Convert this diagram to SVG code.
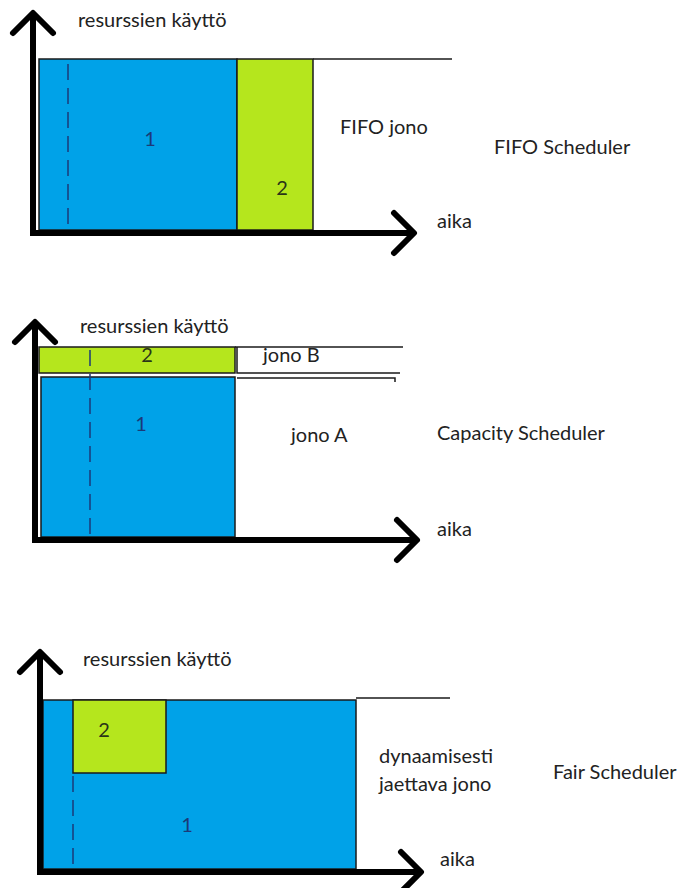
<svg xmlns="http://www.w3.org/2000/svg" width="682" height="888" viewBox="0 0 682 888">
<style>
.t{font-family:Lato,"Liberation Sans",sans-serif;font-size:20px;fill:#222}
.n1{font-family:Lato,"Liberation Sans",sans-serif;font-size:20px;fill:#1b3a78;text-anchor:middle}
.n2{font-family:Lato,"Liberation Sans",sans-serif;font-size:20px;fill:#2a3518;text-anchor:middle}
.blue{fill:#00a2e8;stroke:#1a1a1a;stroke-width:1.5}
.green{fill:#b5e61d;stroke:#1a1a1a;stroke-width:1.5}
.thin{fill:none;stroke:#1a1a1a;stroke-width:1.5}
.dash{fill:none;stroke:#1b3a78;stroke-width:1.5;stroke-dasharray:16 8}
.axis{fill:none;stroke:#000;stroke-width:6;marker-end:url(#chev)}
</style>
<defs>
<marker id="chev" markerUnits="userSpaceOnUse" viewBox="-26 -26 32 52" refX="0" refY="0" markerWidth="32" markerHeight="52" orient="auto" overflow="visible">
<path d="M -20 -20 L 0 0 L -20 20" fill="none" stroke="#000" stroke-width="6" stroke-linecap="round" stroke-linejoin="round"/>
</marker>
</defs>
<rect width="682" height="888" fill="#fff"/>

<g id="fifo">
<rect id="fifo-job1" class="blue" x="39" y="59" width="198" height="171"/>
<rect id="fifo-job2" class="green" x="237" y="59" width="76" height="171"/>
<line class="thin" x1="313" y1="59" x2="452" y2="59"/>
<line class="dash" x1="68" y1="64" x2="68" y2="230"/>
<text class="n1" x="150" y="146">1</text>
<text class="n2" x="282" y="195">2</text>
<text class="t" x="78" y="27">resurssien käyttö</text>
<text class="t" x="340" y="134">FIFO jono</text>
<text class="t" x="494" y="154">FIFO Scheduler</text>
<text class="t" x="437" y="228">aika</text>
</g>

<g id="capacity">
<rect id="cap-job2" class="green" x="39" y="347" width="196" height="26"/>
<rect id="cap-job1" class="blue" x="41" y="377" width="194" height="160"/>
<polyline class="thin" points="235,347 403,347"/>
<polyline class="thin" points="237,347 237,373 400,373"/>
<polyline class="thin" points="237,378 395,378 395,382"/>
<line class="dash" x1="90" y1="350" x2="90" y2="537"/>
<text class="n2" x="147" y="362">2</text>
<text class="n1" x="141" y="431">1</text>
<text class="t" x="80" y="333">resurssien käyttö</text>
<text class="t" x="263" y="362">jono B</text>
<text class="t" x="291" y="442">jono A</text>
<text class="t" x="437" y="440">Capacity Scheduler</text>
<text class="t" x="437" y="536">aika</text>
</g>

<g id="fair">
<rect id="fair-job1" class="blue" x="43" y="700" width="313" height="169"/>
<rect id="fair-job2" class="green" x="73" y="700" width="93" height="73"/>
<line class="thin" x1="356" y1="698" x2="450" y2="698"/>
<line class="dash" x1="73" y1="776" x2="73" y2="869"/>
<text class="n2" x="104" y="737">2</text>
<text class="n1" x="187" y="832">1</text>
<text class="t" x="83" y="666">resurssien käyttö</text>
<text class="t" x="379" y="763">dynaamisesti</text>
<text class="t" x="379" y="791">jaettava jono</text>
<text class="t" x="553" y="779">Fair Scheduler</text>
<text class="t" x="440" y="866">aika</text>
</g>

<g id="connectors">
<path class="axis" d="M 33 233 L 33 13"/>
<path class="axis" d="M 30 233 L 414 233"/>
<path class="axis" d="M 35 540 L 35 322"/>
<path class="axis" d="M 32 540 L 417 540"/>
<path class="axis" d="M 40 872 L 40 652"/>
<path class="axis" d="M 37 872 L 421 872"/>
</g>
</svg>
